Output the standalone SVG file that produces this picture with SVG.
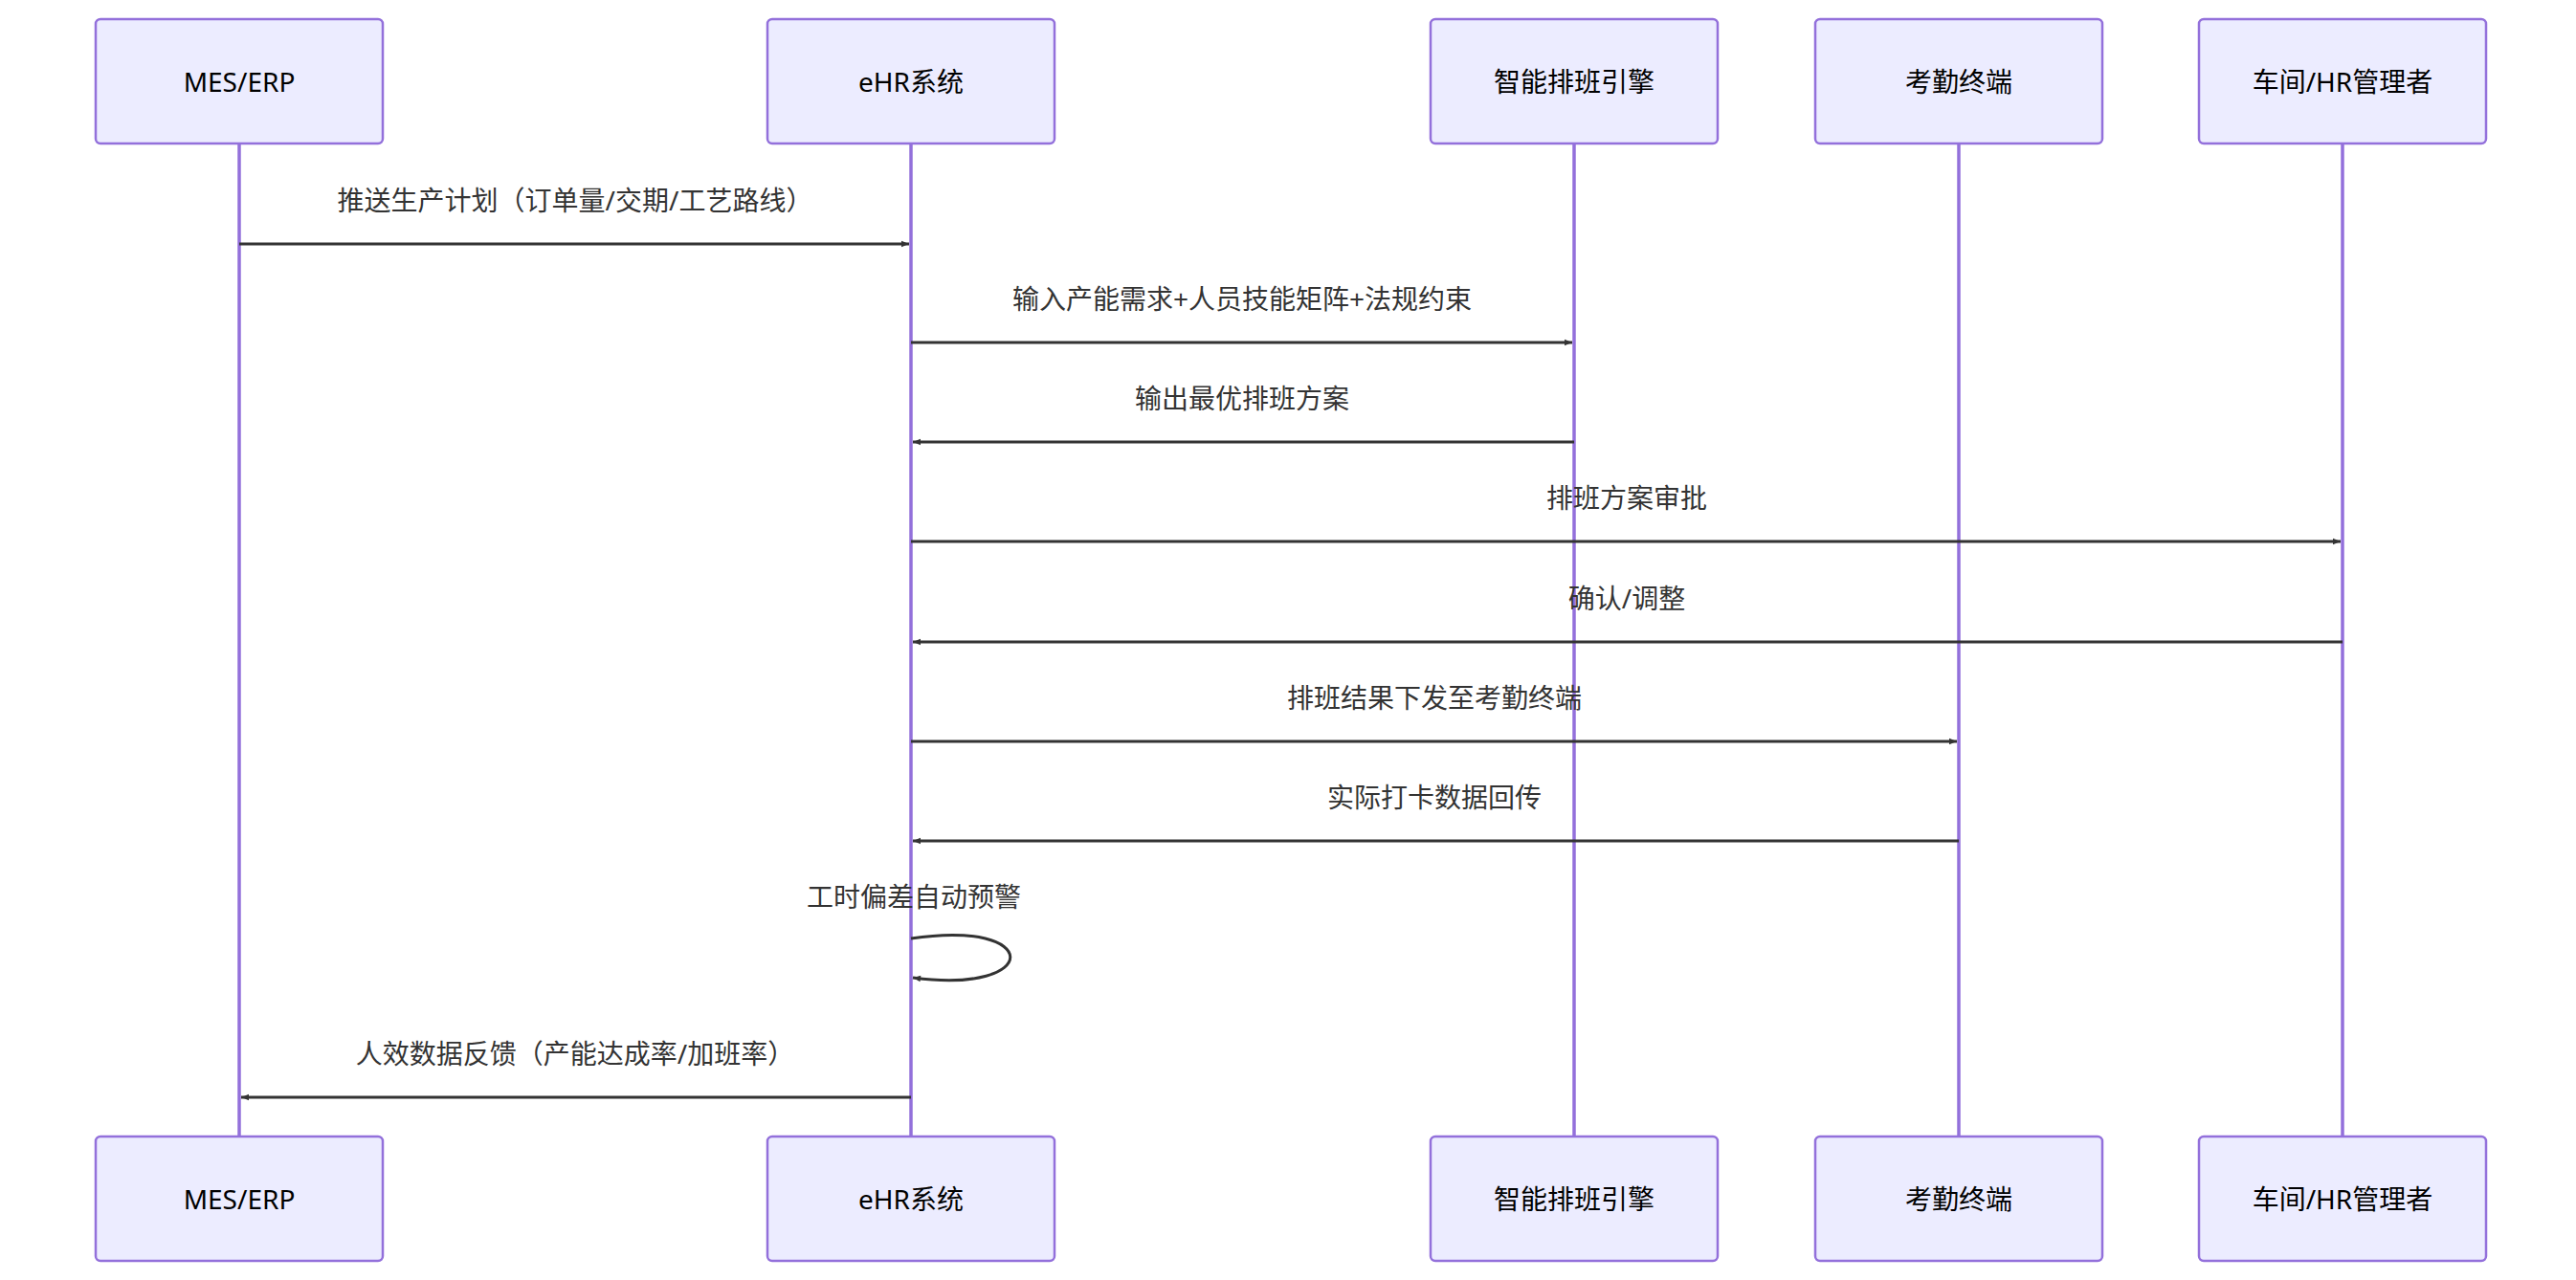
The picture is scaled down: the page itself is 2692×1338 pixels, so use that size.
<svg xmlns="http://www.w3.org/2000/svg" width="2692" height="1338" viewBox="0 0 2692 1338">
<style>
.box{fill:#ECECFF;stroke:#9370DB;stroke-width:2.5}
.life{stroke:#9370DB;stroke-width:3.5}
.pt{font-family:"Noto Sans","Noto Sans CJK SC",sans-serif;font-size:28px;fill:#000;text-anchor:middle;dominant-baseline:central}
.msg{stroke:#333;stroke-width:3;fill:none;marker-end:url(#ah)}
.ml{font-family:"Noto Sans","Noto Sans CJK SC",sans-serif;font-size:28px;fill:#333;text-anchor:middle}
</style>
<defs>
<marker id="ah" viewBox="0 0 12 10" refX="12" refY="5" markerWidth="8" markerHeight="7" markerUnits="userSpaceOnUse" orient="auto" style="overflow:visible"><path d="M0,0 L12,5 L0,10 z" fill="#333"/></marker>
</defs>
<rect width="2692" height="1338" fill="#fff"/>
<g id="lifelines">
<line class="life" x1="250" y1="150" x2="250" y2="1188"/>
<line class="life" x1="952" y1="150" x2="952" y2="1188"/>
<line class="life" x1="1645" y1="150" x2="1645" y2="1188"/>
<line class="life" x1="2047" y1="150" x2="2047" y2="1188"/>
<line class="life" x1="2448" y1="150" x2="2448" y2="1188"/>
</g>
<g id="p-mes"><rect class="box" x="100" y="20" width="300" height="130" rx="5"/><text class="pt" x="250" y="85">MES/ERP</text><rect class="box" x="100" y="1188" width="300" height="130" rx="5"/><text class="pt" x="250" y="1253">MES/ERP</text></g>
<g id="p-ehr"><rect class="box" x="802" y="20" width="300" height="130" rx="5"/><text class="pt" x="952" y="85">eHR系统</text><rect class="box" x="802" y="1188" width="300" height="130" rx="5"/><text class="pt" x="952" y="1253">eHR系统</text></g>
<g id="p-engine"><rect class="box" x="1495" y="20" width="300" height="130" rx="5"/><text class="pt" x="1645" y="85">智能排班引擎</text><rect class="box" x="1495" y="1188" width="300" height="130" rx="5"/><text class="pt" x="1645" y="1253">智能排班引擎</text></g>
<g id="p-term"><rect class="box" x="1897" y="20" width="300" height="130" rx="5"/><text class="pt" x="2047" y="85">考勤终端</text><rect class="box" x="1897" y="1188" width="300" height="130" rx="5"/><text class="pt" x="2047" y="1253">考勤终端</text></g>
<g id="p-mgr"><rect class="box" x="2298" y="20" width="300" height="130" rx="5"/><text class="pt" x="2448" y="85">车间/HR管理者</text><rect class="box" x="2298" y="1188" width="300" height="130" rx="5"/><text class="pt" x="2448" y="1253">车间/HR管理者</text></g>
<g id="connectors">
<line class="msg" x1="250" y1="255" x2="950" y2="255"/>
<text class="ml" x="601" y="220">推送生产计划（订单量/交期/工艺路线）</text>
<line class="msg" x1="952" y1="358" x2="1643" y2="358"/>
<text class="ml" x="1298" y="323">输入产能需求+人员技能矩阵+法规约束</text>
<line class="msg" x1="1645" y1="462" x2="954" y2="462"/>
<text class="ml" x="1298" y="427">输出最优排班方案</text>
<line class="msg" x1="952" y1="566" x2="2446" y2="566"/>
<text class="ml" x="1700" y="531">排班方案审批</text>
<line class="msg" x1="2448" y1="671" x2="954" y2="671"/>
<text class="ml" x="1700" y="636">确认/调整</text>
<line class="msg" x1="952" y1="775" x2="2045" y2="775"/>
<text class="ml" x="1499" y="740">排班结果下发至考勤终端</text>
<line class="msg" x1="2047" y1="879" x2="954" y2="879"/>
<text class="ml" x="1499" y="844">实际打卡数据回传</text>
<path class="msg" d="M952,981 C1090,960 1090,1040 954,1022"/>
<text class="ml" x="955" y="948">工时偏差自动预警</text>
<line class="msg" x1="952" y1="1147" x2="252" y2="1147"/>
<text class="ml" x="601" y="1112">人效数据反馈（产能达成率/加班率）</text>
</g>
</svg>
